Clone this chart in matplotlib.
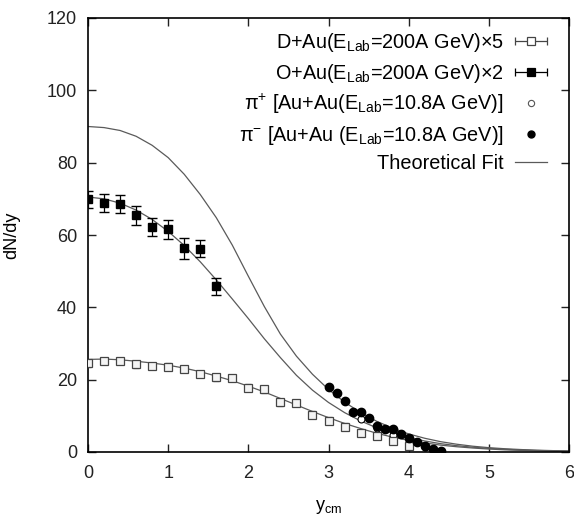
import numpy as np
import matplotlib
matplotlib.use("Agg")
import matplotlib.pyplot as plt
from matplotlib.lines import Line2D
from matplotlib.collections import LineCollection
from matplotlib.container import ErrorbarContainer
from matplotlib.legend_handler import HandlerErrorbar

plt.rcParams["font.family"] = ["Liberation Sans", "DejaVu Sans"]
plt.rcParams["mathtext.fontset"] = "custom"
plt.rcParams["mathtext.rm"] = "Liberation Sans"
plt.rcParams["mathtext.it"] = "Liberation Sans:italic"

# D+Au (x5), open squares
dau_x = [0.0, 0.2, 0.4, 0.6, 0.8, 1.0, 1.2, 1.4, 1.6, 1.8, 2.0,
         2.2, 2.4, 2.6, 2.8, 3.0, 3.2, 3.4, 3.6, 3.8, 4.0]
dau_y = [24.5, 25.2, 25.2, 24.2, 23.8, 23.6, 23.0, 21.6, 20.6, 20.4, 17.8,
         17.3, 13.7, 13.5, 10.3, 8.7, 7.0, 5.2, 4.4, 3.0, 1.7]
dau_err = [0.9] * len(dau_x)

# O+Au (x2), filled squares
oau_x = [0.0, 0.2, 0.4, 0.6, 0.8, 1.0, 1.2, 1.4, 1.6]
oau_y = [69.9, 68.8, 68.5, 65.4, 62.3, 61.6, 56.3, 56.2, 45.8]
oau_err = [2.4, 2.5, 2.5, 2.5, 2.5, 2.6, 2.8, 2.3, 2.4]

# pi+ (open circles, mostly hidden) and pi- (filled circles)
pip_x = [3.4, 3.6, 3.8, 4.0, 4.2]
pip_y = [9.0, 6.5, 4.6, 2.9, 1.3]
pim_x = [3.0, 3.1, 3.2, 3.3, 3.4, 3.5, 3.6, 3.7, 3.8, 3.9, 4.0, 4.1, 4.2, 4.3, 4.4]
pim_y = [17.9, 16.2, 14.1, 11.1, 11.0, 9.3, 7.3, 6.4, 6.3, 4.9, 3.8, 2.7, 1.7, 0.7, 0.3]

# theoretical fits, every 0.2 in y_cm
fit_x = [0.0, 0.2, 0.4, 0.6, 0.8, 1.0, 1.2, 1.4, 1.6, 1.8, 2.0, 2.2, 2.4, 2.6, 2.8,
         3.0, 3.2, 3.4, 3.6, 3.8, 4.0, 4.2, 4.4, 4.6, 4.8, 5.0, 5.2, 5.4, 5.6, 5.8, 6.0]
fit_pi = [90.0, 89.7, 88.9, 87.3, 84.8, 81.4, 76.8, 71.2, 64.8, 57.2, 48.6, 40.2,
          32.6, 26.5, 21.5, 17.3, 13.8, 10.9, 8.5, 6.6, 5.0, 3.8, 2.85, 2.15, 1.6,
          1.2, 0.9, 0.68, 0.5, 0.38, 0.28]
fit_oau = [70.5, 70.0, 68.8, 66.9, 64.3, 61.0, 57.1, 52.6, 47.6, 42.3, 36.9, 31.3,
           26.1, 21.2, 17.1, 13.7, 10.9, 8.6, 6.7, 5.2, 4.0, 3.05, 2.3, 1.75, 1.32,
           1.0, 0.75, 0.56, 0.42, 0.32, 0.24]
fit_dau = [25.6, 25.7, 25.5, 25.1, 24.6, 24.0, 23.2, 22.2, 21.0, 19.7, 18.2, 16.6,
           14.8, 13.0, 11.2, 9.5, 7.9, 6.5, 5.2, 4.1, 3.2, 2.5, 1.9, 1.45, 1.1,
           0.82, 0.6, 0.45, 0.33, 0.25, 0.18]

labels = [r"D+Au(E$_{\rm Lab}$=200A GeV)×5",
          r"O+Au(E$_{\rm Lab}$=200A GeV)×2",
          r"π$^{+}$ [Au+Au(E$_{\rm Lab}$=10.8A GeV)]",
          r"π$^{-}$ [Au+Au (E$_{\rm Lab}$=10.8A GeV)]",
          "Theoretical Fit"]

fig = plt.figure(figsize=(5.74, 5.15), dpi=100)
ax = fig.add_axes([88 / 574, 63 / 515, 481 / 574, 434 / 515])

curve_color = "#5a5a5a"
ax.plot(fit_x, fit_pi, color=curve_color, lw=0.9)
ax.plot(fit_x, fit_oau, color=curve_color, lw=0.9)
ax.plot(fit_x, fit_dau, color=curve_color, lw=0.9)

ax.errorbar(dau_x, dau_y, yerr=dau_err, fmt="s", ms=5.5, mfc="#f4f4f4", mec="#444444",
            mew=0.9, ecolor="#444444", elinewidth=0.8, capsize=2.5, zorder=3)
ax.errorbar(oau_x, oau_y, yerr=oau_err, fmt="s", ms=6, mfc="black", mec="black",
            ecolor="black", elinewidth=0.9, capsize=3.5, zorder=3)
ax.plot(pip_x, pip_y, "o", ms=5, mfc="white", mec="black", mew=0.8, zorder=3)
ax.plot(pim_x, pim_y, "o", ms=6, mfc="black", mec="black", zorder=4)

ax.set_xlim(0, 6)
ax.set_ylim(0, 120)
ax.set_xticks(range(0, 7))
ax.set_yticks(range(0, 121, 20))
ax.tick_params(direction="in", top=True, right=True, length=6, width=1,
               labelsize=13, colors="#222222")
ax.tick_params(axis="x", pad=9)
ax.tick_params(axis="y", pad=8)
for s in ax.spines.values():
    s.set_linewidth(1.2)

ax.set_xlabel(r"y$_{\rm cm}$", fontsize=13)
ax.set_ylabel("dN/dy", fontsize=13)
ax.xaxis.set_label_coords(0.5, -0.105)
ax.yaxis.set_label_coords(-0.14, 0.5)


# legend handles: horizontal error bar samples like gnuplot
def xerr_handle(mfc, mec, label):
    pl = Line2D([], [], marker="s", ls="none", ms=5.5, mfc=mfc, mec=mec, mew=0.9)
    cap = Line2D([], [], color=mec, ms=6, mew=0.9)
    bar = LineCollection([], colors=mec, linewidths=0.9)
    return ErrorbarContainer((pl, [cap], [bar]), has_xerr=True, has_yerr=False, label=label)


h_dau = xerr_handle("white", "#444444", labels[0])
h_oau = xerr_handle("black", "black", labels[1])
h_pip = Line2D([], [], marker="o", ls="none", ms=4.5, mfc="white", mec="#555555", mew=0.8)
h_pim = Line2D([], [], marker="o", ls="none", ms=5, mfc="black", mec="black")
h_fit = Line2D([], [], color=curve_color, lw=0.9)

ax.legend([h_dau, h_oau, h_pip, h_pim, h_fit], labels, loc="upper right",
          bbox_to_anchor=(0.955, 0.97), borderaxespad=0, borderpad=0,
          frameon=False, markerfirst=False, fontsize=14.3, handlelength=1.65,
          handletextpad=0.55, labelspacing=0.38, numpoints=1,
          handler_map={ErrorbarContainer: HandlerErrorbar(xerr_size=0.8)})

fig.savefig("out.png", dpi=100)
